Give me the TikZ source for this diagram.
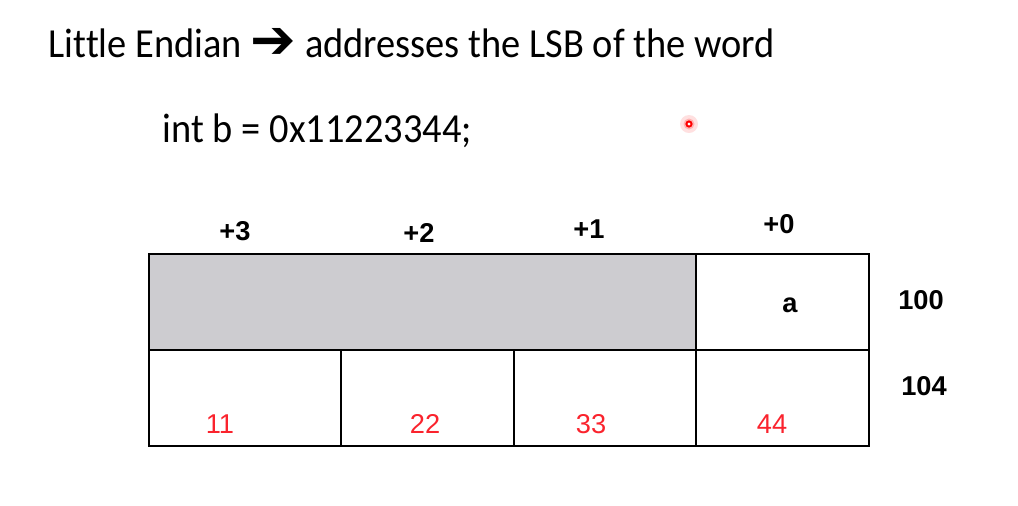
\documentclass[tikz,border=0pt]{standalone}
\usepackage{fontspec}
\setmainfont{Carlito}[FakeStretch=0.93, Ligatures=NoCommon]
\newfontfamily\arialfont{Liberation Sans}
\newfontfamily\symfont{DejaVu Sans}
\usetikzlibrary{positioning}
\definecolor{cellgray}{RGB}{205,204,208}
\definecolor{valred}{RGB}{250,35,45}
\tikzset{
  cell/.style={draw=black, line width=0.7pt, minimum height=1.92cm, inner sep=0pt},
  offs/.style={anchor=base, font=\arialfont\bfseries\fontsize{15.5}{18}\selectfont},
  addr/.style={offs},
  val/.style={anchor=base, text=valred, font=\arialfont\fontsize{15.5}{18}\selectfont},
  head/.style={anchor=base west, font=\fontsize{23.5}{28}\selectfont}
}

\begin{document}
\begin{tikzpicture}[x=0.02cm, y=-0.02cm, every node/.style={outer sep=0pt}]
  \useasboundingbox (0,0) rectangle (1018,505);
  % heading lines
  \node (title) [head] at (43,57) {Little Endian {\symfont\bfseries\fontsize{31}{31}\selectfont\raisebox{-0.6pt}{➔}} addresses the LSB of the word};
  \node (decl) [head] at (157,142) {int b = 0x11223344;};
  % pointer dot
  \fill[red!12] (689,124) circle (9);
  \fill[red!30] (689,124) circle (5.5);
  \draw[red, line width=1.1pt, fill=white] (689,124) circle (2.6);
  % byte offsets
  \node (o3) [offs] at (235,240) {+3};
  \node (o2) [offs] at (419,242) {+2};
  \node (o1) [offs] at (589,238) {+1};
  \node (o0) [offs] at (779,233) {+0};
  % word at 100
  \node (pad) [cell, fill=cellgray, minimum width=10.94cm] at (422.5,302) {};
  \node (ca) [cell, minimum width=3.46cm] at (782.5,302) {};
  % word at 104
  \node (c3) [cell, minimum width=3.84cm] at (245,398) {};
  \node (c2) [cell, minimum width=3.46cm] at (427.5,398) {};
  \node (c1) [cell, minimum width=3.64cm] at (605,398) {};
  \node (c0) [cell, minimum width=3.46cm] at (782.5,398) {};
  % contents
  \node (a) [offs] at (790,312) {a};
  \node (v11) [val] at (220,433) {11};
  \node (v22) [val] at (425,433) {22};
  \node (v33) [val] at (591,433) {33};
  \node (v44) [val] at (772,433) {44};
  % addresses
  \node (a100) [addr] at (921,309) {100};
  \node (a104) [addr] at (924,395) {104};
\end{tikzpicture}
\end{document}
